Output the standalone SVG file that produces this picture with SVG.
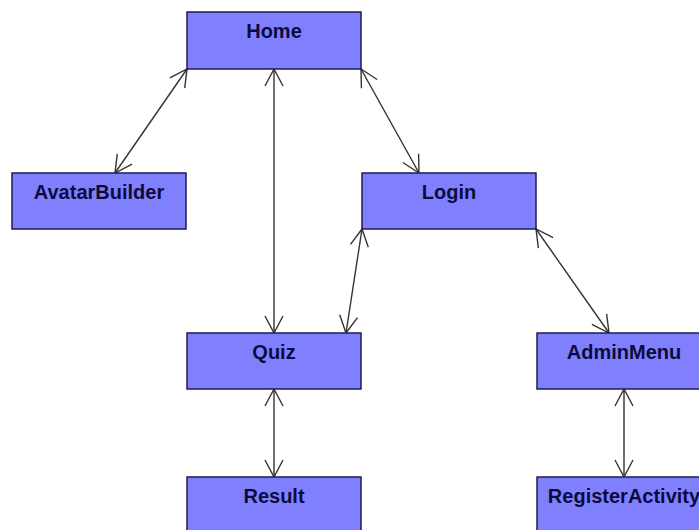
<svg xmlns="http://www.w3.org/2000/svg" width="699" height="530" viewBox="0 0 699 530">
<style>
.box{fill:#8080ff;stroke:#1e1e48;stroke-width:1.5}
.lbl{font-family:"Liberation Sans",Arial,sans-serif;font-weight:bold;font-size:20px;fill:#0c0c3c;text-anchor:middle}
.edge{stroke:#333333;stroke-width:1.4;fill:none;marker-start:url(#arr);marker-end:url(#arr)}
</style>
<defs>
<marker id="arr" markerUnits="userSpaceOnUse" viewBox="-20 -10 22 20" refX="0" refY="0" markerWidth="22" markerHeight="20" orient="auto-start-reverse" overflow="visible">
<path d="M-17,-9 L0,0 L-17,9" fill="none" stroke="#333333" stroke-width="1.4"/>
</marker>
</defs>
<rect width="699" height="530" fill="#ffffff"/>
<g id="connectors">
<line class="edge" x1="187" y1="69" x2="115" y2="173"/>
<line class="edge" x1="274" y1="69" x2="274" y2="333"/>
<line class="edge" x1="361" y1="69" x2="419" y2="173"/>
<line class="edge" x1="362" y1="229" x2="346" y2="333"/>
<line class="edge" x1="536" y1="229" x2="609" y2="333"/>
<line class="edge" x1="274" y1="389" x2="274" y2="477"/>
<line class="edge" x1="624" y1="389" x2="624" y2="477"/>
</g>
<g id="home"><rect class="box" x="187" y="12" width="174" height="57"/><text class="lbl" x="274" y="38">Home</text></g>
<g id="avatarbuilder"><rect class="box" x="12" y="173" width="174" height="56"/><text class="lbl" x="99" y="199">AvatarBuilder</text></g>
<g id="login"><rect class="box" x="362" y="173" width="174" height="56"/><text class="lbl" x="449" y="199">Login</text></g>
<g id="quiz"><rect class="box" x="187" y="333" width="174" height="56"/><text class="lbl" x="274" y="359">Quiz</text></g>
<g id="adminmenu"><rect class="box" x="537" y="333" width="174" height="56"/><text class="lbl" x="624" y="359">AdminMenu</text></g>
<g id="result"><rect class="box" x="187" y="477" width="174" height="57"/><text class="lbl" x="274" y="503">Result</text></g>
<g id="registeractivity"><rect class="box" x="537" y="477" width="174" height="57"/><text class="lbl" x="624" y="503">RegisterActivity</text></g>
</svg>
